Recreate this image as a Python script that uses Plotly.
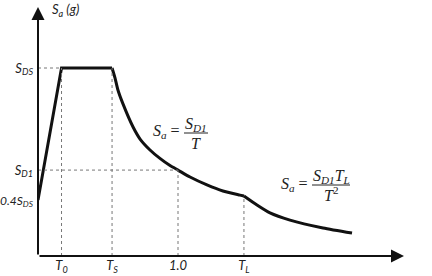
import plotly.graph_objects as go

# ---- data (T in s, Sa normalised to S_DS = 1) ----
T0, TS, T1, TL = 0.168, 0.529, 1.0, 1.471
SDS, SD1, SA0 = 1.0, 0.457, 0.298

ramp_T = [0.0, T0, TS]
ramp_Sa = [SA0, SDS, SDS]

c1_T = [0.529, 0.550, 0.571, 0.607, 0.679, 0.729, 0.800, 0.871, 0.943,
        1.0, 1.086, 1.207, 1.321, 1.443, 1.471]
c1_Sa = [1.0, 0.947, 0.883, 0.809, 0.686, 0.622, 0.564, 0.519, 0.481,
         0.457, 0.420, 0.378, 0.346, 0.324, 0.319]

c2_T = [1.471, 1.564, 1.657, 1.8, 2.036, 2.243]
c2_Sa = [0.319, 0.271, 0.229, 0.191, 0.149, 0.122]

x_tick_vals = [T0, TS, T1, TL]
x_tick_text = ["<i>T<sub>0</sub></i>", "<i>T<sub>S</sub></i>", "<i>1.0</i>", "<i>T<sub>L</sub></i>"]
y_tick_vals = [SA0, SD1, SDS]
y_tick_text = ["<span style='font-size:12px'><i>0.4S<sub>DS</sub></i></span>",
               "<i>S<sub>D1</sub></i>", "<i>S<sub>DS</sub></i>"]

W, H = 432, 276
L, B = 38, 20
PX_PER_T, PX_PER_SA = 140.0, 188.0
XMAX = (W - L) / PX_PER_T
YMAX = (H - B) / PX_PER_SA


def X(px):
    return (px - L) / PX_PER_T


def Y(py):
    return (H - B - py) / PX_PER_SA


INK = "#111111"
fig = go.Figure()
fig.add_trace(go.Scatter(x=ramp_T, y=ramp_Sa, mode="lines",
                         line=dict(color=INK, width=3), hoverinfo="skip"))
fig.add_trace(go.Scatter(x=c1_T, y=c1_Sa, mode="lines",
                         line=dict(color=INK, width=3, shape="spline", smoothing=0.6),
                         hoverinfo="skip"))
fig.add_trace(go.Scatter(x=c2_T, y=c2_Sa, mode="lines",
                         line=dict(color=INK, width=3, shape="spline", smoothing=0.6),
                         hoverinfo="skip"))

dot = dict(color="#777777", width=1, dash="dot")
shapes = [
    dict(type="line", x0=0, x1=T0, y0=SDS, y1=SDS, line=dot),
    dict(type="line", x0=0, x1=T1, y0=SD1, y1=SD1, line=dot),
    dict(type="line", x0=T0, x1=T0, y0=0, y1=SDS, line=dot),
    dict(type="line", x0=TS, x1=TS, y0=0, y1=SDS, line=dot),
    dict(type="line", x0=T1, x1=T1, y0=0, y1=SD1, line=dot),
    dict(type="line", x0=TL, x1=TL, y0=0, y1=c2_Sa[0], line=dot),
    # fraction bars
    dict(type="line", x0=X(184), x1=X(208), y0=Y(133), y1=Y(133),
         line=dict(color="#222", width=1)),
    dict(type="line", x0=X(312), x1=X(350), y0=Y(185), y1=Y(185),
         line=dict(color="#222", width=1)),
]

serif = dict(family="Liberation Serif", size=16, color="#222")
sans = dict(family="Lato", size=13, color="#222")
ann = [
    # axes arrows
    dict(x=X(404), y=0, ax=0, ay=0, xref="x", yref="y", axref="x", ayref="y",
         showarrow=True, arrowhead=2, arrowsize=1.3, arrowwidth=2, arrowcolor=INK, text=""),
    dict(x=0, y=Y(7), ax=0, ay=0, xref="x", yref="y", axref="x", ayref="y",
         showarrow=True, arrowhead=2, arrowsize=1.3, arrowwidth=2, arrowcolor=INK, text=""),
    # axis titles
    dict(x=X(50), y=Y(10), xref="x", yref="y", xanchor="left", yanchor="middle",
         text="<i>S<sub>a</sub> (g)</i>", showarrow=False, font=sans),
    dict(x=X(408), y=Y(258), xref="x", yref="y", xanchor="left", yanchor="middle",
         text="<i>T(s)</i>", showarrow=False, font=sans),
    # formula 1
    dict(x=X(182), y=Y(131), xref="x", yref="y", xanchor="right", yanchor="middle",
         text="<i>S<sub>a</sub></i> =", showarrow=False, font=serif),
    dict(x=X(196), y=Y(124), xref="x", yref="y", xanchor="center", yanchor="middle",
         text="<i>S<sub>D1</sub></i>", showarrow=False, font=serif),
    dict(x=X(196), y=Y(143), xref="x", yref="y", xanchor="center", yanchor="middle",
         text="<i>T</i>", showarrow=False, font=serif),
    # formula 2
    dict(x=X(310), y=Y(184), xref="x", yref="y", xanchor="right", yanchor="middle",
         text="<i>S<sub>a</sub></i> =", showarrow=False, font=serif),
    dict(x=X(331), y=Y(176), xref="x", yref="y", xanchor="center", yanchor="middle",
         text="<i>S<sub>D1</sub>T<sub>L</sub></i>", showarrow=False, font=serif),
    dict(x=X(331), y=Y(194), xref="x", yref="y", xanchor="center", yanchor="middle",
         text="<i>T</i><sup>2</sup>", showarrow=False, font=serif),
]

fig.update_layout(
    width=W, height=H, margin=dict(l=L, r=0, t=0, b=B),
    paper_bgcolor="white", plot_bgcolor="white", showlegend=False,
    shapes=shapes, annotations=ann,
    xaxis=dict(range=[0, XMAX], showgrid=False, zeroline=False, showline=False,
               tickmode="array", tickvals=x_tick_vals, ticktext=x_tick_text,
               ticks="", tickfont=sans, automargin=False, fixedrange=True),
    yaxis=dict(range=[0, YMAX], showgrid=False, zeroline=False, showline=False,
               tickmode="array", tickvals=y_tick_vals, ticktext=y_tick_text,
               ticks="", tickfont=sans, automargin=False, fixedrange=True,
               ticklabelstandoff=4),
)
fig.write_html("out.html", config=dict(displayModeBar=False))
